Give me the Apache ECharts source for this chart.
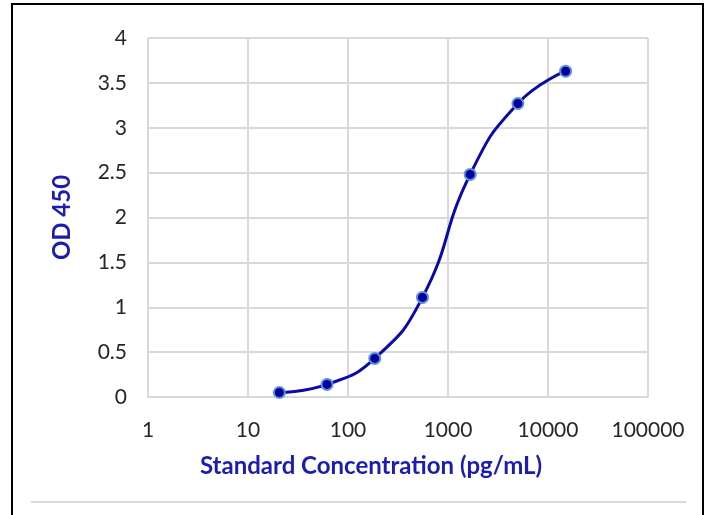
<!DOCTYPE html>
<html>
<head>
<meta charset="utf-8">
<script src="https://cdn.jsdelivr.net/npm/echarts@6/dist/echarts.min.js"></script>
<style>
  html, body { margin: 0; padding: 0; background: #fff; }
  #chart { width: 707px; height: 515px; }
</style>
</head>
<body>
<div id="chart"></div>
<script>
// standard curve data (3-fold dilutions)
const concentrations = [20.58, 61.73, 185.2, 555.6, 1666.7, 5000, 15000]
const odValues = [0.05, 0.14, 0.43, 1.11, 2.48, 3.27, 3.63]
const yTicks = [0, 0.5, 1, 1.5, 2, 2.5, 3, 3.5, 4]
const xTicks = [1, 10, 100, 1000, 10000, 100000]

const xTitle = 'Standard Concentration (pg/mL)'
const yTitle = 'OD 450'

const chart = echarts.init(document.getElementById('chart'))
const gridColor = '#d9d9d9'
const titleColor = '#1c1cb0'
const font = 'Lato, "Open Sans", sans-serif'

const option = {
  animation: false,
  grid: { left: 148, right: 59, top: 38, bottom: 118 },
  xAxis: {
    type: 'log',
    logBase: 10,
    min: xTicks[0],
    max: xTicks[xTicks.length - 1],
    axisLine: { show: true, lineStyle: { color: gridColor, width: 2 } },
    axisTick: { show: false },
    splitLine: { show: true, lineStyle: { color: gridColor, width: 2 } },
    axisLabel: {
      margin: 23,
      color: '#262626',
      fontSize: 21,
      fontFamily: font,
      formatter: v => String(Math.round(v))
    }
  },
  yAxis: {
    type: 'value',
    min: yTicks[0],
    max: yTicks[yTicks.length - 1],
    interval: 0.5,
    name: yTitle,
    nameLocation: 'middle',
    nameGap: 74,
    nameTextStyle: { color: titleColor, fontSize: 24, fontWeight: 'bold', fontFamily: font },
    axisLine: { show: false },
    axisTick: { show: false },
    splitLine: { show: true, lineStyle: { color: gridColor, width: 2 } },
    axisLabel: {
      margin: 21,
      color: '#262626',
      fontSize: 21,
      fontFamily: font,
      formatter: v => String(v)
    }
  },
  graphic: [
    {
      type: 'rect',
      shape: { x: 12, y: 4, width: 691, height: 540 },
      style: { fill: 'none', stroke: '#000', lineWidth: 2 },
      silent: true
    },
    {
      type: 'line',
      shape: { x1: 31, y1: 502, x2: 686, y2: 502 },
      style: { stroke: gridColor, lineWidth: 2 },
      silent: true
    },
    {
      type: 'text',
      x: 371,
      y: 466,
      style: {
        text: xTitle,
        fill: titleColor,
        font: 'bold 24px ' + font,
        align: 'center',
        verticalAlign: 'middle'
      }
    }
  ],
  series: [
    {
      type: 'line',
      data: concentrations.map((c, i) => [c, odValues[i]]),
      smooth: 0.5,
      symbol: 'circle',
      symbolSize: 11,
      lineStyle: { color: '#0a0aa8', width: 3 },
      itemStyle: { color: '#00009e', borderColor: '#5a8fd6', borderWidth: 2 }
    }
  ]
}
chart.setOption(option)
</script>
</body>
</html>
